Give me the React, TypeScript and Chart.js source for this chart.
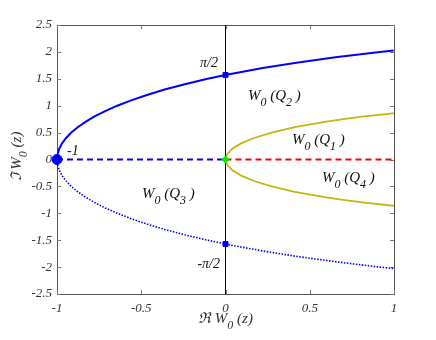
import { useEffect, useRef } from 'react';
import { Chart, registerables } from 'chart.js';

Chart.register(...registerables);

// Boundary of W0 image (upper half): imaginary part and real part
const boundaryIm = [0.1, 0.2, 0.3, 0.4, 0.5, 0.6, 0.7, 0.8, 0.9, 1.0, 1.1, 1.2, 1.3, 1.4, 1.5, 1.5708, 1.6, 1.7, 1.8, 1.9, 2.0, 2.028];
const boundaryRe = [-0.9967, -0.9866, -0.9698, -0.9461, -0.9153, -0.877, -0.8311, -0.777, -0.7142, -0.6421, -0.5599, -0.4665, -0.3609, -0.2415, -0.1064, 0, 0.0467, 0.2208, 0.4207, 0.6526, 0.9153, 0.998];

// Yellow curve separating W0(Q1)/W0(Q2) and W0(Q4)
const yellowIm = [0, 0.1, 0.2, 0.3, 0.4, 0.5, 0.6, 0.7, 0.75, 0.8, 0.85, 0.8604];
const yellowRe = [0, 0.01, 0.0405, 0.0928, 0.1691, 0.2732, 0.4105, 0.5896, 0.6987, 0.8237, 0.9676, 1.0];

// Real-axis segments
const negAxisRe = [-1, 0];
const posAxisRe = [0, 1];
const vertLineIm = [-2.5, 2.5];

// Marked points
const branchPointRe = -1;
const halfPi = 1.5708;

const xTicks = [-1, -0.5, 0, 0.5, 1];
const yTicks = [-2.5, -2, -1.5, -1, -0.5, 0, 0.5, 1, 1.5, 2, 2.5];

const SERIF = '"Liberation Serif", "Times New Roman", serif';

type Part = { t: string; sub?: boolean };

function drawParts(ctx: CanvasRenderingContext2D, x: number, y: number, parts: Part[], size: number, subSize: number, subDy: number, align: 'left' | 'center' | 'right' = 'left') {
  let w = 0;
  for (const p of parts) {
    ctx.font = `italic ${p.sub ? subSize : size}px ${SERIF}`;
    w += ctx.measureText(p.t).width;
  }
  let cx = align === 'center' ? x - w / 2 : align === 'right' ? x - w : x;
  ctx.textAlign = 'left';
  ctx.textBaseline = 'alphabetic';
  for (const p of parts) {
    ctx.font = `italic ${p.sub ? subSize : size}px ${SERIF}`;
    ctx.fillText(p.t, cx, p.sub ? y + subDy : y);
    cx += ctx.measureText(p.t).width;
  }
}

const framePlugin = {
  id: 'frame',
  beforeDatasetsDraw(chart: any) {
    const { ctx, chartArea: a, scales } = chart;
    ctx.save();
    ctx.strokeStyle = '#555';
    ctx.lineWidth = 1;
    ctx.strokeRect(Math.round(a.left) + 0.5, Math.round(a.top) + 0.5, Math.round(a.right - a.left), Math.round(a.bottom - a.top));
    ctx.strokeStyle = '#777';
    const L = 4;
    for (const v of xTicks) {
      const px = Math.round(scales.x.getPixelForValue(v)) + 0.5;
      ctx.beginPath();
      ctx.moveTo(px, a.bottom); ctx.lineTo(px, a.bottom - L);
      ctx.moveTo(px, a.top); ctx.lineTo(px, a.top + L);
      ctx.stroke();
    }
    for (const v of yTicks) {
      const py = Math.round(scales.y.getPixelForValue(v)) + 0.5;
      ctx.beginPath();
      ctx.moveTo(a.left, py); ctx.lineTo(a.left + L, py);
      ctx.moveTo(a.right, py); ctx.lineTo(a.right - L, py);
      ctx.stroke();
    }
    ctx.restore();
  },
  afterDatasetsDraw(chart: any) {
    const { ctx, chartArea: a } = chart;
    ctx.save();
    ctx.fillStyle = '#111';
    drawParts(ctx, 248, 100, [{ t: 'W' }, { t: '0', sub: true }, { t: ' (Q' }, { t: '2', sub: true }, { t: ' )' }], 15, 12, 6);
    drawParts(ctx, 292, 144, [{ t: 'W' }, { t: '0', sub: true }, { t: ' (Q' }, { t: '1', sub: true }, { t: ' )' }], 15, 12, 6);
    drawParts(ctx, 322, 182, [{ t: 'W' }, { t: '0', sub: true }, { t: ' (Q' }, { t: '4', sub: true }, { t: ' )' }], 15, 12, 6);
    drawParts(ctx, 142, 198, [{ t: 'W' }, { t: '0', sub: true }, { t: ' (Q' }, { t: '3', sub: true }, { t: ' )' }], 15, 12, 6);
    drawParts(ctx, 218, 67, [{ t: 'π/2' }], 14, 12, 0, 'right');
    drawParts(ctx, 220, 268, [{ t: '-π/2' }], 14, 12, 0, 'right');
    drawParts(ctx, 67, 155, [{ t: '-1' }], 14, 12, 0, 'left');
    // axis titles
    ctx.fillStyle = '#333';
    const cxMid = (a.left + a.right) / 2;
    drawParts(ctx, cxMid, 323, [{ t: 'ℜ ' }, { t: 'W' }, { t: '0', sub: true }, { t: ' (z)' }], 15, 12, 6, 'center');
    ctx.translate(21, (a.top + a.bottom) / 2 - 3);
    ctx.rotate(-Math.PI / 2);
    drawParts(ctx, 0, 0, [{ t: 'ℑ ' }, { t: 'W' }, { t: '0', sub: true }, { t: ' (z)' }], 15, 12, 6, 'center');
    ctx.restore();
  },
};

export default function App() {
  const ref = useRef<HTMLCanvasElement | null>(null);
  useEffect(() => {
    if (!ref.current) return;
    const upper = boundaryRe.map((x, i) => ({ x, y: boundaryIm[i] }));
    const lower = boundaryRe.map((x, i) => ({ x, y: -boundaryIm[i] }));
    const yellow = [
      ...yellowRe.map((x, i) => ({ x, y: -yellowIm[i] })).reverse(),
      ...yellowRe.slice(1).map((x, i) => ({ x, y: yellowIm[i + 1] })),
    ];
    const line = (data: any[], color: string, width: number, dash: number[] = []) => ({
      data, borderColor: color, backgroundColor: color, borderWidth: width, borderDash: dash,
      showLine: true, pointRadius: 0, tension: 0, fill: false,
    });
    const chart = new Chart(ref.current, {
      type: 'scatter',
      data: {
        datasets: [
          { data: [{ x: branchPointRe, y: 0 }], backgroundColor: '#0000ff', borderColor: '#0000ff', pointRadius: 5, pointStyle: 'circle', clip: false } as any,
          { data: [{ x: 0, y: 0 }], backgroundColor: '#00ee00', borderColor: '#00ee00', pointRadius: 3.5, pointStyle: 'rectRot' } as any,
          { data: [{ x: 0, y: halfPi }, { x: 0, y: -halfPi }], backgroundColor: '#0000ff', borderColor: '#0000ff', pointRadius: 3.5, pointStyle: 'rect' } as any,
          line(negAxisRe.map((x) => ({ x, y: 0 })), '#0000ff', 1.8, [6, 4]),
          line(posAxisRe.map((x) => ({ x, y: 0 })), '#ff0000', 1.8, [6, 4]),
          line(upper, '#0000ff', 2),
          line(lower, '#0000ff', 1.6, [1.5, 1.5]),
          line(yellow, '#c4b60e', 1.8),
          line(vertLineIm.map((y) => ({ x: 0, y })), '#000000', 1),
        ],
      },
      options: {
        responsive: false,
        animation: false,
        layout: { padding: { top: 25, right: 42, left: 0, bottom: 0 } },
        plugins: { legend: { display: false }, tooltip: { enabled: false } },
        scales: {
          x: {
            type: 'linear', min: -1, max: 1,
            grid: { display: false, drawTicks: false },
            border: { display: false },
            ticks: {
              stepSize: 0.5, padding: 7, maxRotation: 0, color: '#333',
              font: { family: SERIF, style: 'italic', size: 13 },
              callback: (v: any) => String(v),
            },
            afterFit: (s: any) => { s.height = 46; },
          },
          y: {
            type: 'linear', min: -2.5, max: 2.5,
            grid: { display: false, drawTicks: false },
            border: { display: false },
            ticks: {
              stepSize: 0.5, padding: 5, color: '#333',
              font: { family: SERIF, style: 'italic', size: 13 },
              callback: (v: any) => String(v),
            },
            afterFit: (s: any) => { s.width = 57; },
          },
        },
      } as any,
      plugins: [framePlugin],
    });
    return () => chart.destroy();
  }, []);
  return (
    <div style={{ position: 'absolute', left: 0, top: 0, width: 436, height: 340, background: '#fff' }}>
      <canvas ref={ref} width={436} height={340} />
    </div>
  );
}
